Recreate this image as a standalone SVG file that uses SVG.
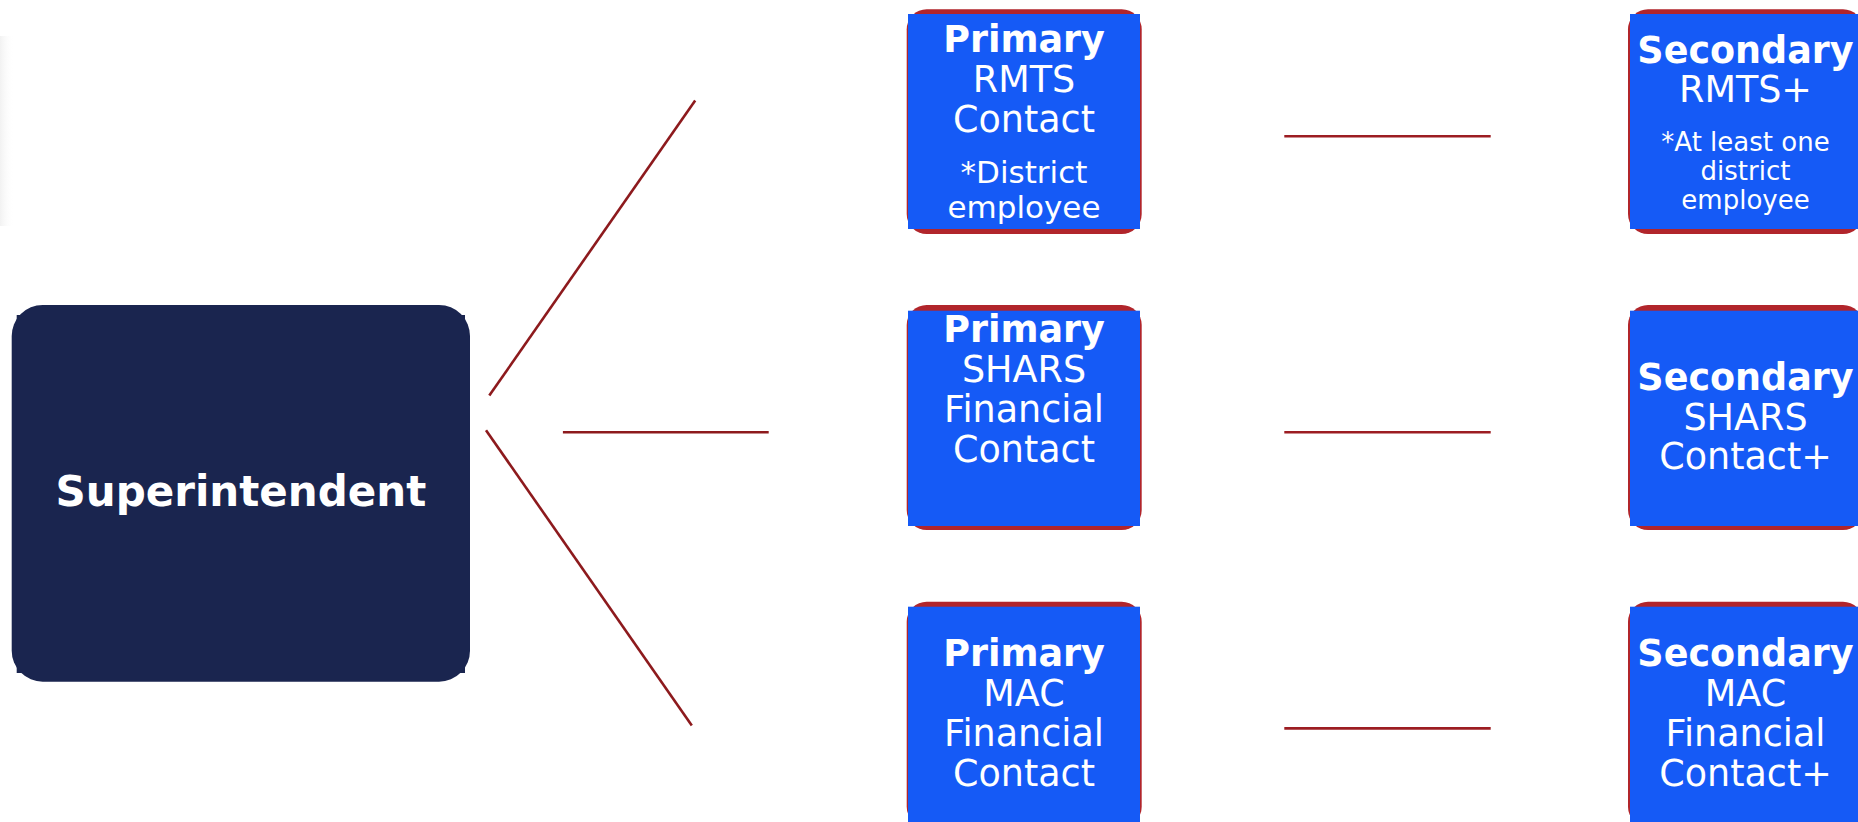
<svg xmlns="http://www.w3.org/2000/svg" width="1858" height="822" viewBox="0 0 1858 822">
  <style>
    .sup-back { fill: #1a254f; }
    .card-back { fill: #b1252b; }
    .card-face { fill: #155af6; }
    .t { font-family: "DejaVu Sans", Verdana, sans-serif; fill: #ffffff; text-anchor: middle; }
    .b { font-weight: bold; font-size: 36.5px; }
    .r { font-size: 36.5px; }
    .s1 { font-size: 31px; }
    .s2 { font-size: 26px; }
    .sup { font-weight: bold; font-size: 42px; }
    .conn-l { stroke: #8d1a1d; stroke-width: 2.6; fill: none; }
    .conn-r { stroke: #9c1d22; stroke-width: 2.6; fill: none; }
  </style>
  <defs>
    <linearGradient id="smudge" x1="0" y1="0" x2="1" y2="0">
      <stop offset="0" stop-color="#ececec" stop-opacity="0.7"/>
      <stop offset="1" stop-color="#ffffff" stop-opacity="0"/>
    </linearGradient>
  </defs>

  <rect x="0" y="36" width="14" height="190" fill="url(#smudge)"/>

  <g id="connectors">
    <line class="conn-l" x1="489.3" y1="395.6" x2="695.2" y2="100.5"/>
    <line class="conn-l" x1="562.9" y1="432.3" x2="768.7" y2="432.3"/>
    <line class="conn-l" x1="486" y1="430.2" x2="691.8" y2="725.5"/>
    <line class="conn-r" x1="1284.3" y1="136.3" x2="1490.7" y2="136.3"/>
    <line class="conn-r" x1="1284.3" y1="432.3" x2="1490.7" y2="432.3"/>
    <line class="conn-r" x1="1284.3" y1="728.4" x2="1490.7" y2="728.4"/>
  </g>

  <g id="superintendent">
    <rect class="sup-back" x="11.7" y="305" width="458.3" height="376.7" rx="31" ry="31"/>
    <rect class="sup-back" x="16.7" y="315" width="448.3" height="358"/>
    <text class="t sup" x="240.9" y="506">Superintendent</text>
  </g>

  <g id="primary-rmts">
    <rect class="card-back" x="906.7" y="9.3" width="235" height="224.7" rx="20" ry="20"/>
    <rect class="card-face" x="908" y="14" width="232" height="215"/>
    <text class="t b" x="1024" y="52">Primary</text>
    <text class="t r" x="1024" y="92">RMTS</text>
    <text class="t r" x="1024" y="132">Contact</text>
    <text class="t s1" x="1024" y="183">*District</text>
    <text class="t s1" x="1024" y="218">employee</text>
  </g>

  <g id="primary-shars">
    <rect class="card-back" x="906.7" y="305" width="235" height="225" rx="20" ry="20"/>
    <rect class="card-face" x="908" y="310.7" width="232" height="215.3"/>
    <text class="t b" x="1024" y="342">Primary</text>
    <text class="t r" x="1024" y="382">SHARS</text>
    <text class="t r" x="1024" y="422">Financial</text>
    <text class="t r" x="1024" y="462">Contact</text>
  </g>

  <g id="primary-mac">
    <rect class="card-back" x="906.7" y="601.7" width="235" height="225" rx="20" ry="20"/>
    <rect class="card-face" x="908" y="606.7" width="232" height="215.3"/>
    <text class="t b" x="1024" y="666">Primary</text>
    <text class="t r" x="1024" y="706">MAC</text>
    <text class="t r" x="1024" y="746">Financial</text>
    <text class="t r" x="1024" y="786">Contact</text>
  </g>

  <g id="secondary-rmts">
    <rect class="card-back" x="1628" y="9.3" width="235" height="224.7" rx="20" ry="20"/>
    <rect class="card-face" x="1630" y="14" width="232" height="215"/>
    <text class="t b" x="1745.5" y="63">Secondary</text>
    <text class="t r" x="1745.5" y="102">RMTS+</text>
    <text class="t s2" x="1745.5" y="151">*At least one</text>
    <text class="t s2" x="1745.5" y="180">district</text>
    <text class="t s2" x="1745.5" y="209">employee</text>
  </g>

  <g id="secondary-shars">
    <rect class="card-back" x="1628" y="305" width="235" height="225" rx="20" ry="20"/>
    <rect class="card-face" x="1630" y="310.7" width="232" height="215.3"/>
    <text class="t b" x="1745.5" y="390">Secondary</text>
    <text class="t r" x="1745.5" y="430">SHARS</text>
    <text class="t r" x="1745.5" y="469">Contact+</text>
  </g>

  <g id="secondary-mac">
    <rect class="card-back" x="1628" y="601.7" width="235" height="225" rx="20" ry="20"/>
    <rect class="card-face" x="1630" y="606.7" width="232" height="215.3"/>
    <text class="t b" x="1745.5" y="666">Secondary</text>
    <text class="t r" x="1745.5" y="706">MAC</text>
    <text class="t r" x="1745.5" y="746">Financial</text>
    <text class="t r" x="1745.5" y="786">Contact+</text>
  </g>
</svg>
